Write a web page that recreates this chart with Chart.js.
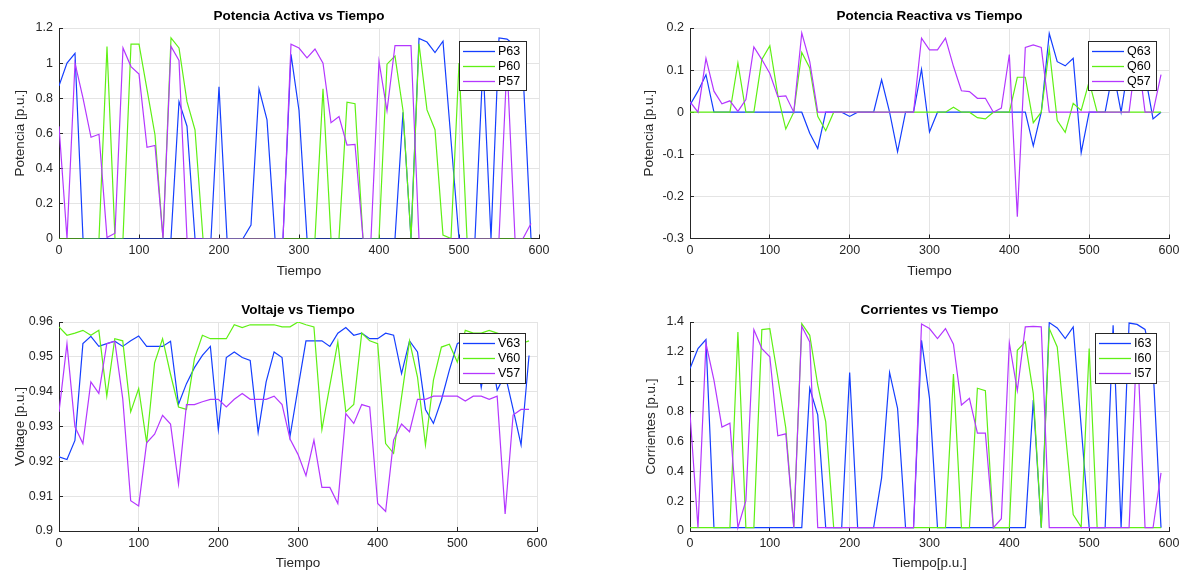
<!DOCTYPE html>
<html>
<head>
<meta charset="utf-8">
<script src="https://cdn.jsdelivr.net/npm/chart.js@4.4.1/dist/chart.umd.min.js"></script>
<style>
  html, body { margin: 0; padding: 0; background: #fff; }
  #wrap { position: relative; width: 1183px; height: 573px; overflow: hidden; background: #fff; }
  canvas { position: absolute; }
</style>
</head>
<body>
<div id="wrap">
  <canvas id="cP" style="left:0;top:0" width="592" height="290"></canvas>
  <canvas id="cQ" style="left:592px;top:0" width="610" height="290"></canvas>
  <canvas id="cV" style="left:0;top:290px" width="592" height="283"></canvas>
  <canvas id="cI" style="left:592px;top:290px" width="610" height="283"></canvas>
</div>
<script>
// time axis (s)
const tiempo = [0, 10, 20, 30, 40, 50, 60, 70, 80, 90, 100, 110, 120, 130, 140, 150, 160, 170, 180, 190,
  200, 210, 220, 230, 240, 250, 260, 270, 280, 290, 300, 310, 320, 330, 340, 350, 360, 370, 380, 390,
  400, 410, 420, 430, 440, 450, 460, 470, 480, 490, 500, 510, 520, 530, 540, 550, 560, 570, 580, 590];

// potencia activa [p.u.]
const P63 = [0.87, 1.0, 1.055, 0, 0, 0, 0, 0, 0, 0, 0, 0, 0, 0, 0, 0.78, 0.64, 0, 0, 0,
  0.865, 0, 0, 0, 0.076, 0.853, 0.676, 0, 0, 1.05, 0.73, 0, 0, 0, 0, 0, 0, 0, 0, 0,
  0, 0, 0, 0.72, 0, 1.14, 1.12, 1.06, 1.125, 0.56, 0, 0, 0, 1.0, 0, 1.143, 1.137, 1.1, 0.95, 0];
const P60 = [0, 0, 0, 0, 0, 0, 1.095, 0, 0, 1.108, 1.108, 0.85, 0.59, 0, 1.143, 1.086, 0.78, 0.62, 0, 0,
  0, 0, 0, 0, 0, 0, 0, 0, 0, 0, 0, 0, 0, 0.853, 0, 0, 0.777, 0.768, 0, 0,
  0, 0.994, 1.04, 0.73, 0, 1.11, 0.733, 0.62, 0.02, 0, 1.0, 0, 0, 0, 0, 0, 0, 0, 0, 0];
const P57 = [0.64, 0, 1.0, 0.8, 0.577, 0.594, 0.006, 0.03, 1.086, 0.98, 0.937, 0.52, 0.53, 0, 1.095, 1.015, 0, 0, 0, 0,
  0, 0, 0, 0, 0, 0, 0, 0, 0, 1.108, 1.086, 1.03, 1.08, 1.0, 0.66, 0.695, 0.533, 0.537, 0, 0,
  1.01, 0.728, 1.1, 1.1, 1.1, 0, 0, 0, 0, 0, 0, 0, 0, 0, 0, 0, 1.0, 0, 0, 0.086];

// potencia reactiva [p.u.]
const Q63 = [0.017, 0.05, 0.089, 0, 0, 0, 0, 0, 0, 0, 0, 0, 0, 0, 0, -0.05, -0.086, 0, 0, 0,
  -0.01, 0, 0, 0, 0.077, 0, -0.094, 0, 0, 0.102, -0.047, 0, 0, 0, 0, 0, 0, 0, 0, 0,
  0, 0, 0, -0.08, 0, 0.187, 0.12, 0.11, 0.128, -0.096, 0, 0, 0, 0.1, 0, 0.12, 0.1, 0.09, -0.016, 0];
const Q60 = [0, 0, 0, 0, 0, 0, 0.117, 0, 0, 0.125, 0.158, 0.04, -0.04, 0, 0.142, 0.105, -0.01, -0.044, 0, 0,
  0, 0, 0, 0, 0, 0, 0, 0, 0, 0, 0, 0, 0, 0.012, 0, 0, -0.013, -0.016, 0, 0,
  0, 0.083, 0.083, -0.025, 0, 0.15, -0.02, -0.048, 0.021, 0.004, 0.073, 0, 0, 0, 0, 0, 0, 0, 0, 0];
const Q57 = [0.025, 0, 0.128, 0.05, 0.02, 0.027, 0.002, 0.03, 0.155, 0.125, 0.092, 0.037, 0.039, 0, 0.188, 0.12, 0, 0, 0, 0,
  0, 0, 0, 0, 0, 0, 0, 0, 0, 0.176, 0.148, 0.148, 0.176, 0.109, 0.051, 0.049, 0.033, 0.033, 0, 0.01,
  0.137, -0.248, 0.154, 0.16, 0.154, 0, 0, 0, 0, 0, 0, 0, 0, 0, 0, 0, 0.15, 0, 0, 0.089];

// voltaje [p.u.]
const V63 = [0.9213, 0.9205, 0.926, 0.9538, 0.9559, 0.953, 0.9538, 0.9545, 0.953, 0.9546,
  0.956, 0.953, 0.953, 0.953, 0.9545, 0.9364, 0.9423, 0.9469, 0.9504, 0.953,
  0.9291, 0.9498, 0.9514, 0.9498, 0.949, 0.9283, 0.9428, 0.9514, 0.9498, 0.9272,
  0.941, 0.9546, 0.9546, 0.9546, 0.953, 0.9568, 0.9584, 0.9562, 0.9568, 0.9552,
  0.9552, 0.9568, 0.9562, 0.9452, 0.9546, 0.9514, 0.9349, 0.9309, 0.9376, 0.9462,
  0.9538, 0.955, 0.956, 0.9412, 0.954, 0.9404, 0.945, 0.935, 0.9247, 0.9504];
const V60 = [0.9586, 0.9562, 0.9568, 0.9576, 0.9562, 0.9576, 0.9387, 0.9552, 0.9546, 0.9342,
  0.9409, 0.9253, 0.9483, 0.9552, 0.945, 0.9356, 0.9349, 0.9495, 0.9562, 0.9552,
  0.9552, 0.9552, 0.9592, 0.9584, 0.9592, 0.9592, 0.9592, 0.9592, 0.9586, 0.9586,
  0.96, 0.9592, 0.9586, 0.9291, 0.9418, 0.9543, 0.9342, 0.9363, 0.9568, 0.9546,
  0.9538, 0.9251, 0.9223, 0.9385, 0.9546, 0.9442, 0.9247, 0.9433, 0.9528, 0.9536,
  0.9485, 0.9576, 0.9568, 0.9568, 0.9576, 0.9568, 0.956, 0.955, 0.9538, 0.9546];
const V57 = [0.9342, 0.9538, 0.9299, 0.9251, 0.9428, 0.9395, 0.9538, 0.9545, 0.938, 0.9087,
  0.9072, 0.9253, 0.9278, 0.9332, 0.9307, 0.9135, 0.9363, 0.9363, 0.9371, 0.9378,
  0.9378, 0.9356, 0.9378, 0.9395, 0.9378, 0.9378, 0.9378, 0.9387, 0.9363, 0.9264,
  0.922, 0.9159, 0.9261, 0.9125, 0.9125, 0.9079, 0.9337, 0.9309, 0.9363, 0.9356,
  0.9079, 0.9056, 0.9261, 0.9307, 0.9285, 0.9378, 0.9378, 0.9387, 0.9387, 0.9387,
  0.9387, 0.9373, 0.9387, 0.9387, 0.9378, 0.9387, 0.9049, 0.9333, 0.9349, 0.9349];

// corrientes [p.u.]
const I63 = [1.089, 1.222, 1.282, 0.022, 0.022, 0.022, 0.022, 0.022, 0.022, 0.022,
  0.022, 0.022, 0.022, 0.022, 0.022, 0.956, 0.778, 0.022, 0.022, 0.022,
  1.062, 0.022, 0.022, 0.022, 0.356, 1.062, 0.822, 0.022, 0.022, 1.278,
  0.89, 0.022, 0.022, 0.022, 0.022, 0.022, 0.022, 0.022, 0.022, 0.022,
  0.022, 0.022, 0.022, 0.878, 0.022, 1.396, 1.36, 1.289, 1.367, 0.7,
  0.022, 0.022, 0.022, 1.378, 0.022, 1.393, 1.384, 1.35, 1.1, 0.022];
const I60 = [0.022, 0.022, 0.022, 0.022, 0.022, 0.022, 1.333, 0.022, 0.022, 1.349,
  1.356, 1.03, 0.689, 0.022, 1.389, 1.311, 0.978, 0.733, 0.022, 0.022,
  0.022, 0.022, 0.022, 0.022, 0.022, 0.022, 0.022, 0.022, 0.022, 0.022,
  0.022, 0.022, 0.022, 1.051, 0.022, 0.022, 0.956, 0.94, 0.022, 0.022,
  0.022, 1.211, 1.267, 0.92, 0.022, 1.356, 1.233, 0.67, 0.11, 0.027,
  1.222, 0.022, 0.022, 0.022, 0.022, 0.022, 0.022, 0.022, 0.022, 0.022];
const I57 = [0.789, 0.022, 1.256, 1.011, 0.696, 0.722, 0.022, 0.204, 1.349, 1.222,
  1.167, 0.638, 0.651, 0.022, 1.371, 1.267, 0.022, 0.022, 0.022, 0.022,
  0.022, 0.022, 0.022, 0.022, 0.022, 0.022, 0.022, 0.022, 0.022, 1.386,
  1.356, 1.289, 1.356, 1.251, 0.844, 0.889, 0.656, 0.656, 0.022, 0.082,
  1.26, 0.94, 1.367, 1.371, 1.367, 0.022, 0.022, 0.022, 0.022, 0.022,
  0.022, 0.022, 0.022, 0.022, 0.022, 0.022, 1.3, 0.022, 0.022, 0.389];

const FONT = '"Liberation Sans", Arial, Helvetica, sans-serif';
const AZUL = 'rgb(20, 62, 255)';
const VERDE = 'rgb(95, 240, 20)';
const MORADO = 'rgb(180, 55, 255)';
const TXT = '#262626';

// titulo centrado sobre el eje + leyenda dentro del eje (como en matlab)
const decor = {
  id: 'decor',
  afterDatasetsDraw(chart, args, o) {
    const ctx = chart.ctx;
    const a = chart.chartArea;
    ctx.save();
    ctx.font = 'bold 13.5px ' + FONT;
    ctx.fillStyle = '#000';
    ctx.textAlign = 'center';
    ctx.textBaseline = 'middle';
    ctx.fillText(o.title, (a.left + a.right) / 2, o.titleY);

    const b = o.box;
    ctx.fillStyle = '#fff';
    ctx.fillRect(b[0], b[1], b[2], b[3]);
    ctx.strokeStyle = TXT;
    ctx.lineWidth = 1;
    ctx.strokeRect(b[0] + 0.5, b[1] + 0.5, b[2], b[3]);
    ctx.font = '12.5px ' + FONT;
    ctx.textAlign = 'left';
    chart.data.datasets.forEach((ds, k) => {
      const y = b[1] + 10.5 + k * 15;
      ctx.strokeStyle = ds.borderColor;
      ctx.lineWidth = 1.3;
      ctx.beginPath();
      ctx.moveTo(b[0] + 4, y);
      ctx.lineTo(b[0] + 36, y);
      ctx.stroke();
      ctx.fillStyle = '#000';
      ctx.fillText(ds.label, b[0] + 39, y + 0.5);
    });
    ctx.restore();
  }
};

function serie(label, vals, color, order) {
  return {
    label: label,
    data: tiempo.map((t, i) => ({ x: t, y: vals[i] })),
    borderColor: color,
    backgroundColor: color,
    borderWidth: 1.2,
    pointRadius: 0,
    tension: 0,
    order: order
  };
}

function makeChart(id, o) {
  const tickFont = { family: FONT, size: 12.5 };
  const labFont = { family: FONT, size: 13.5 };
  // ticks hacia dentro, como matlab
  const grid = { color: '#e4e4e4', lineWidth: 1, drawTicks: true, tickLength: -4, tickColor: TXT, tickWidth: 1 };
  return new Chart(document.getElementById(id), {
    type: 'line',
    data: {
      datasets: [
        serie(o.names[0], o.series[0], AZUL, 3),
        serie(o.names[1], o.series[1], VERDE, 2),
        serie(o.names[2], o.series[2], MORADO, 1)
      ]
    },
    options: {
      responsive: false,
      animation: false,
      events: [],
      layout: { padding: { left: 0, top: o.top, right: o.right, bottom: 0 } },
      plugins: {
        legend: { display: false },
        tooltip: { enabled: false },
        decor: { title: o.title, titleY: o.titleY, box: o.box }
      },
      scales: {
        x: {
          type: 'linear', min: 0, max: 600,
          ticks: { stepSize: 100, padding: 9, color: TXT, font: tickFont, maxRotation: 0 },
          grid: grid,
          border: { color: TXT, width: 1 },
          title: { display: true, text: o.xTitle, color: TXT, font: labFont, padding: { top: 0, bottom: o.xPad } },
          afterFit: s => { s.height = o.xH; }
        },
        y: {
          type: 'linear', min: o.yMin, max: o.yMax,
          ticks: { stepSize: o.yStep, padding: 10, color: TXT, font: tickFont, callback: v => +v.toFixed(2) },
          grid: grid,
          border: { color: TXT, width: 1 },
          title: { display: true, text: o.yTitle, color: TXT, font: labFont, padding: { top: o.yPad, bottom: 0 } },
          afterFit: s => { s.width = o.yW; }
        }
      }
    },
    plugins: [decor]
  });
}

makeChart('cP', {
  names: ['P63', 'P60', 'P57'], series: [P63, P60, P57],
  title: 'Potencia Activa vs Tiempo', titleY: 16, box: [459, 41, 67, 49],
  xTitle: 'Tiempo', yTitle: 'Potencia [p.u.]',
  yMin: 0, yMax: 1.2, yStep: 0.2,
  top: 28, right: 53, xH: 51.5, xPad: 11, yW: 59, yPad: 12
});
makeChart('cQ', {
  names: ['Q63', 'Q60', 'Q57'], series: [Q63, Q60, Q57],
  title: 'Potencia Reactiva vs Tiempo', titleY: 16, box: [496, 41, 68, 49],
  xTitle: 'Tiempo', yTitle: 'Potencia [p.u.]',
  yMin: -0.3, yMax: 0.2, yStep: 0.1,
  top: 28, right: 33, xH: 51.5, xPad: 11, yW: 98, yPad: 49
});
makeChart('cV', {
  names: ['V63', 'V60', 'V57'], series: [V63, V60, V57],
  title: 'Voltaje vs Tiempo', titleY: 20, box: [459, 43, 66, 50],
  xTitle: 'Tiempo', yTitle: 'Voltage [p.u.]',
  yMin: 0.9, yMax: 0.96, yStep: 0.01,
  top: 32, right: 55, xH: 42, xPad: 2, yW: 59, yPad: 12
});
makeChart('cI', {
  names: ['I63', 'I60', 'I57'], series: [I63, I60, I57],
  title: 'Corrientes vs Tiempo', titleY: 20, box: [503, 43, 61, 50],
  xTitle: 'Tiempo[p.u.]', yTitle: 'Corrientes [p.u.]',
  yMin: 0, yMax: 1.4, yStep: 0.2,
  top: 32, right: 33, xH: 42, xPad: 2, yW: 98, yPad: 51
});
</script>
</body>
</html>
